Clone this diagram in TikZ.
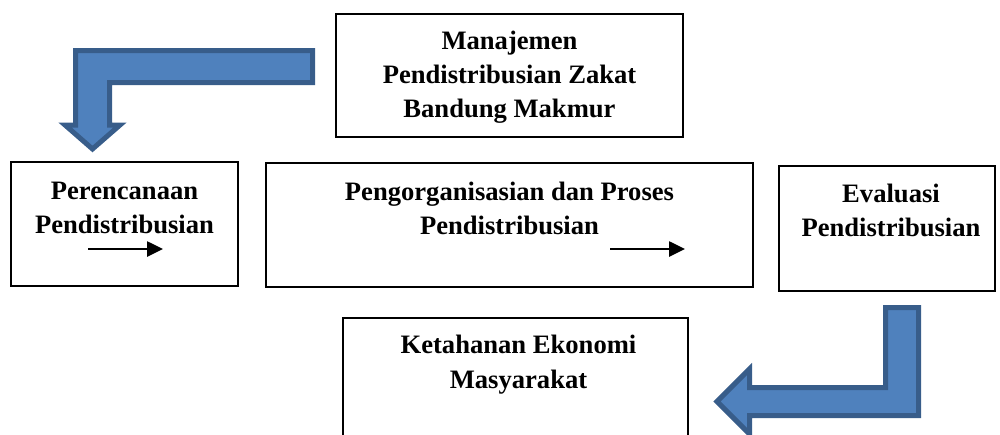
\documentclass[tikz,border=0pt]{standalone}
\usepackage{fontspec}
\setmainfont{Liberation Serif}
\usetikzlibrary{arrows.meta,positioning}
\definecolor{arrfill}{RGB}{79,129,189}
\definecolor{arrline}{RGB}{56,93,138}

\begin{document}
\begin{tikzpicture}[
        x=0.5pt, y=-0.5pt,
        box/.style={rectangle, draw, line width=0.8pt, inner sep=0pt, fill=white},
        lbl/.style={anchor=north, align=center, inner sep=0pt, font=\fontsize{13.3}{17}\selectfont\bfseries},
        blockarr/.style={fill=arrfill, draw=arrline, line width=2.5pt, line join=miter},
        flow/.style={-{Triangle[length=8pt,width=7.5pt]}, line width=1.3pt},
    ]
        \useasboundingbox (0,0) rectangle (1000,434);
        \clip (0,0) rectangle (1000,434);

        % Top box
        \node[box, minimum width=173.5pt, minimum height=61.5pt] (MGMT) at (509.5,75.5) {};
        \node[lbl, yshift=-8.5pt] (MGMTTXT) at (MGMT.north) {Manajemen\\Pendistribusian Zakat\\Bandung Makmur};

        % Middle row
        \node[box, minimum width=113.5pt, minimum height=62pt] (PLAN) at (124.5,224) {};
        \node[lbl, yshift=-10pt] (PLANTXT) at (PLAN.north) {Perencanaan\\Pendistribusian};

        \node[box, minimum width=243.5pt, minimum height=62pt] (ORG) at (509.5,225) {};
        \node[lbl, yshift=-9.5pt] (ORGTXT) at (ORG.north) {Pengorganisasian dan Proses\\Pendistribusian};

        \node[box, minimum width=108pt, minimum height=62.5pt] (EVAL) at (887,228.5) {};
        \node[lbl, yshift=-9pt, xshift=2pt] (EVALTXT) at (EVAL.north) {Evaluasi\\Pendistribusian};

        % Bottom box (runs off the page)
        \node[box, minimum width=172.5pt, minimum height=65pt] (ECON) at (515.5,383) {};
        \node[lbl, yshift=-8.5pt, xshift=1.5pt, font=\fontsize{13.3}{17.5}\selectfont\bfseries] (ECONTXT) at (ECON.north) {Ketahanan Ekonomi\\Masyarakat};

        % Small arrows inside boxes
        \coordinate (PLANA) at (88,249);
        \coordinate (PLANB) at (163,249);
        \draw[flow] (PLANA) -- (PLANB);
        \coordinate (ORGA) at (610,249);
        \coordinate (ORGB) at (685,249);
        \draw[flow] (ORGA) -- (ORGB);

        % Bent block arrows
        \draw[blockarr] (312.5,50.5) -- (312.5,82.5) -- (109.5,82.5) -- (109.5,125) -- (120,125)
            -- (92.5,149) -- (65,125) -- (75.5,125) -- (75.5,50.5) -- cycle;
        \draw[blockarr] (885.5,307.5) -- (918.5,307.5) -- (918.5,415.5) -- (749.5,415.5) -- (749.5,434)
            -- (717,401.5) -- (749.5,369) -- (749.5,387.5) -- (885.5,387.5) -- cycle;
    \end{tikzpicture}
\end{document}
